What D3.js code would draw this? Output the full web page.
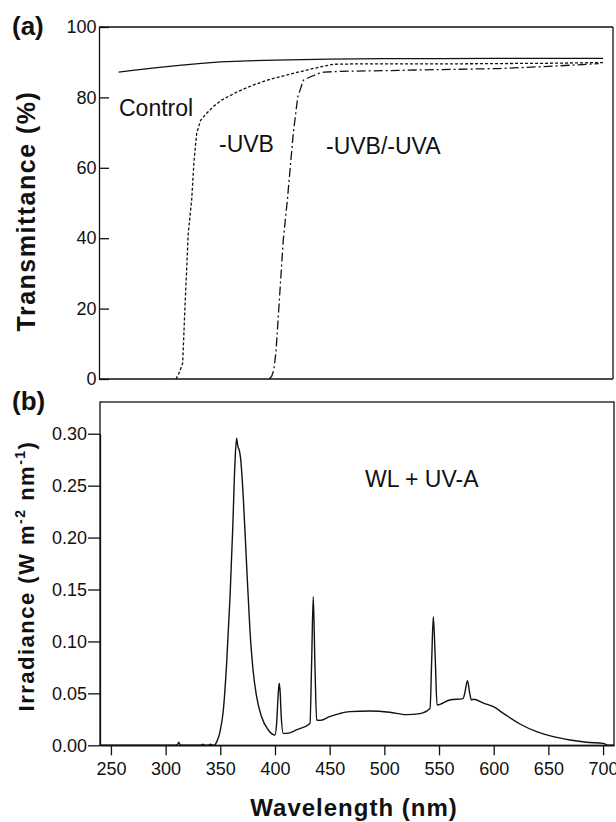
<!DOCTYPE html>
<html>
<head>
<meta charset="utf-8">
<script src="https://cdn.jsdelivr.net/npm/d3@7"></script>
<style>
  body { margin: 0; background: #fff; }
  svg { display: block; }
  .tick text { font-family: "Liberation Sans", Arial, sans-serif; font-size: 18px; fill: #111; }
  .tick line, .domain { stroke: #111; stroke-width: 1.3px; }
</style>
</head>
<body>
<div id="chart-area"></div>
<script>
// panel (a): transmittance of the filters
const wlControl = [257, 270, 290, 310, 330, 350, 375, 400, 450, 500, 550, 600, 650, 700];
const tControl  = [87.2, 87.7, 88.4, 89.0, 89.6, 90.1, 90.4, 90.6, 90.9, 91.0, 91.0, 91.1, 91.1, 91.1];

const wlUVB = [309.5, 312, 315.6, 317.7, 320.7, 323.8, 326, 328.4, 332, 337.5, 344, 351, 365, 380, 393, 410, 432, 445, 453, 470, 500, 550, 600, 650, 700];
const tUVB  = [0, 1.5, 4.5, 20.5, 41.4, 50.8, 62, 69.8, 73.5, 75.5, 77.5, 79.2, 81.5, 83.5, 84.9, 86.3, 88.0, 88.9, 89.4, 89.5, 89.5, 89.5, 89.6, 89.7, 89.9];

const wlUVA = [394.8, 397, 399, 401, 403, 407.6, 411.3, 416.7, 420.8, 426, 432, 440, 445, 460, 500, 550, 605, 650, 696];
const tUVA  = [0, 0.8, 2.6, 8, 17.7, 39.5, 50.8, 69.7, 80.1, 84.9, 85.8, 86.8, 87.2, 87.4, 87.6, 87.9, 88.2, 88.8, 89.6];

const tTicks = [0, 20, 40, 60, 80, 100];

// panel (b): lamp spectrum
const wlSpec = [240, 300, 309, 311, 312, 313, 315, 332, 334, 336, 339, 341, 343, 345, 347, 349.7, 352.8, 355.8, 358.9, 361.3, 363.4, 364.9, 366, 367.4, 368.6, 371, 374, 377.1, 380, 383, 387.7, 393.9, 400, 401.5, 403, 403.9, 404.8, 405.6, 407.6, 410.7, 420, 432, 433.5, 435, 436.5, 438.1, 441, 450, 459, 468.4, 486.7, 505, 520.4, 532.6, 541.8, 543.3, 544.8, 546.6, 548.2, 559.8, 572, 573.5, 576, 578.1, 579.6, 581.4, 591.1, 599.7, 608.8, 624, 639.3, 654.5, 669.8, 685, 700.2, 704.8, 710];
const irr    = [0, 0, 0, 0.001, 0.003, 0.001, 0, 0, 0.001, 0, 0, 0.001, 0, 0.0005, 0.004, 0.013, 0.034, 0.079, 0.143, 0.207, 0.2715, 0.2956, 0.288, 0.284, 0.276, 0.239, 0.175, 0.111, 0.072, 0.048, 0.0275, 0.0147, 0.0099, 0.021, 0.05, 0.0597, 0.05, 0.03, 0.0115, 0.0115, 0.015, 0.021, 0.079, 0.143, 0.079, 0.0244, 0.024, 0.0276, 0.0305, 0.0324, 0.033, 0.0318, 0.0295, 0.0305, 0.0356, 0.082, 0.1238, 0.082, 0.0388, 0.0436, 0.045, 0.05, 0.0622, 0.05, 0.0436, 0.0443, 0.0404, 0.0372, 0.0308, 0.0205, 0.0131, 0.0083, 0.0051, 0.0029, 0.0019, 0, 0];

const irrTicks = [0, 0.05, 0.10, 0.15, 0.20, 0.25, 0.30];
const wlTicks = [250, 300, 350, 400, 450, 500, 550, 600, 650, 700];

const W = 616, H = 822;
const left = 100, right = 614;
const aTop = 27, aBottom = 379;
const bTop = 402, bBottom = 745.3;
const font = "'Liberation Sans', Arial, sans-serif";

const svg = d3.select("#chart-area")
  .append("svg")
    .attr("width", W)
    .attr("height", H);

const x = d3.scaleLinear().domain([240, 710]).range([left, right]);
const yA = d3.scaleLinear().domain([0, 100]).range([aBottom, aTop]);
const yB = d3.scaleLinear().domain([0, 0.3]).range([bBottom, bBottom - 6 * 51.93]);

// ---- panel (a)
const gA = svg.append("g");

gA.append("g")
  .attr("transform", `translate(${left - 1}, 0)`)
  .call(d3.axisLeft(yA).tickValues(tTicks).tickSizeInner(-10).tickSizeOuter(0).tickPadding(2.5));

gA.append("line")
  .attr("x1", left - 1).attr("x2", right - 1)
  .attr("y1", aBottom).attr("y2", aBottom)
  .attr("stroke", "#111").attr("stroke-width", 1.5);
gA.append("line")
  .attr("x1", left - 1).attr("x2", right - 1)
  .attr("y1", aTop).attr("y2", aTop)
  .attr("stroke", "#111").attr("stroke-width", 1.3);
gA.append("line")
  .attr("x1", right - 1).attr("x2", right - 1)
  .attr("y1", aTop).attr("y2", aBottom)
  .attr("stroke", "#111").attr("stroke-width", 1.3);

const lineA = d3.line().x(d => x(d[0])).y(d => yA(d[1]));

const series = [
  { wl: wlControl, t: tControl, dash: null },
  { wl: wlUVB, t: tUVB, dash: "3,2" },
  { wl: wlUVA, t: tUVA, dash: "9,3,2,3" }
];

series.forEach(s => {
  gA.append("path")
    .datum(d3.zip(s.wl, s.t))
    .attr("fill", "none")
    .attr("stroke", "#111")
    .attr("stroke-width", 1.3)
    .attr("stroke-dasharray", s.dash)
    .attr("d", lineA);
});

const labelsA = [
  { text: "Control", x: 119, y: 116 },
  { text: "-UVB", x: 219, y: 152 },
  { text: "-UVB/-UVA", x: 326, y: 154 }
];
gA.selectAll(".series-label")
  .data(labelsA)
  .enter()
  .append("text")
    .attr("x", d => d.x)
    .attr("y", d => d.y)
    .attr("font-family", font)
    .attr("font-size", "23px")
    .attr("fill", "#111")
    .text(d => d.text);

gA.append("text")
  .attr("x", -211)
  .attr("y", 35)
  .attr("transform", "rotate(-90)")
  .attr("text-anchor", "middle")
  .attr("font-family", font)
  .attr("font-weight", "bold")
  .attr("font-size", "25px")
  .attr("letter-spacing", "1.5px")
  .attr("fill", "#111")
  .text("Transmittance (%)");

svg.append("text")
  .attr("x", 12).attr("y", 35)
  .attr("font-family", font).attr("font-weight", "bold").attr("font-size", "26px")
  .attr("fill", "#111")
  .text("(a)");

// ---- panel (b)
const gB = svg.append("g");

gB.append("g")
  .attr("transform", `translate(${left}, 0)`)
  .call(d3.axisLeft(yB).tickValues(irrTicks).tickFormat(d3.format(".2f")).tickSizeInner(12).tickSizeOuter(0).tickPadding(1));

gB.append("g")
  .attr("transform", `translate(0, ${bBottom})`)
  .call(d3.axisBottom(x).tickValues(wlTicks).tickSizeInner(10).tickSizeOuter(0).tickPadding(7));

gB.append("rect")
  .attr("x", left).attr("y", bTop)
  .attr("width", right - left).attr("height", bBottom - bTop)
  .attr("fill", "none").attr("stroke", "#111").attr("stroke-width", 1.3);

gB.append("path")
  .datum(d3.zip(wlSpec, irr))
  .attr("fill", "none")
  .attr("stroke", "#111")
  .attr("stroke-width", 1.4)
  .attr("stroke-linejoin", "round")
  .attr("d", d3.line().curve(d3.curveMonotoneX).x(d => x(d[0])).y(d => yB(d[1])));

gB.append("text")
  .attr("x", 365).attr("y", 487)
  .attr("font-family", font).attr("font-size", "23px")
  .attr("fill", "#111")
  .text("WL + UV-A");

const yLab = gB.append("text")
  .attr("x", -576)
  .attr("y", 34)
  .attr("transform", "rotate(-90)")
  .attr("text-anchor", "middle")
  .attr("font-family", font)
  .attr("font-weight", "bold")
  .attr("font-size", "22px")
  .attr("letter-spacing", "1.5px")
  .attr("fill", "#111");
yLab.append("tspan").text("Irradiance (W m");
yLab.append("tspan").attr("font-size", "14px").attr("dy", "-9").text("-2");
yLab.append("tspan").attr("dy", "9").text(" nm");
yLab.append("tspan").attr("font-size", "14px").attr("dy", "-9").text("-1");
yLab.append("tspan").attr("dy", "9").text(")");

gB.append("text")
  .attr("x", (left + right) / 2 - 3)
  .attr("y", 816)
  .attr("text-anchor", "middle")
  .attr("font-family", font)
  .attr("font-weight", "bold")
  .attr("font-size", "24px")
  .attr("letter-spacing", "1px")
  .attr("fill", "#111")
  .text("Wavelength (nm)");

svg.append("text")
  .attr("x", 12).attr("y", 410)
  .attr("font-family", font).attr("font-weight", "bold").attr("font-size", "26px")
  .attr("fill", "#111")
  .text("(b)");
</script>
</body>
</html>
